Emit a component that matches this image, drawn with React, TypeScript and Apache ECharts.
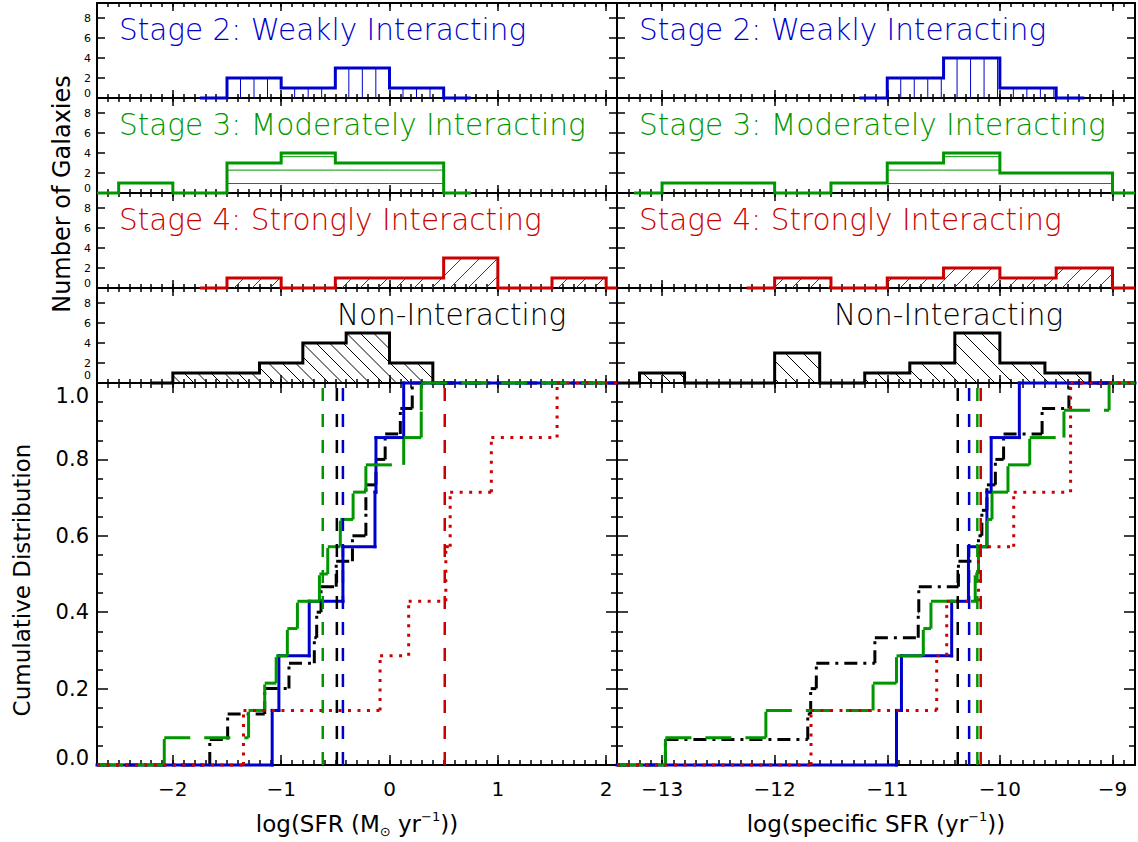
import React, { useEffect, useRef } from 'react';
import * as echarts from 'echarts';

// ---------------- colours / fonts ----------------
const BLUE = '#0000cc';
const GREEN = '#009600';
const RED = '#cc0000';
const BLACK = '#000000';
const FONT = '"DejaVu Sans", "Noto Sans", sans-serif';

// ---------------- axis ranges ----------------
const SFR_RANGE = [-2.7, 2.1];
const SSFR_RANGE = [-13.4, -8.8];
const HIST_Y_MAX = 9.5;
const HIST_Y_STEP = 2;
const CDF_Y_STEP = 0.2;

// ---------------- histogram data (bin centres + counts, IDL psym=10 style) ----------------
// log SFR
const stage2SfrCentres = [-1.75, -1.25, -0.75, -0.25, 0.25, 0.75];
const stage2SfrCounts = [0, 2, 1, 3, 1, 0];
const stage3SfrCentres = [-2.75, -2.25, -1.75, -1.25, -0.75, -0.25, 0.25, 0.75];
const stage3SfrCounts = [0, 1, 0, 3, 4, 3, 3, 0];
const stage4SfrCentres = [-1.75, -1.25, -0.75, -0.25, 0.25, 0.75, 1.25, 1.75, 2.25];
const stage4SfrCounts = [0, 1, 0, 1, 1, 3, 0, 1, 0];
const nonSfrCentres = [-2.2, -1.8, -1.4, -1.0, -0.6, -0.2, 0.2, 0.6];
const nonSfrCounts = [0, 1, 1, 2, 4, 5, 2, 0];
// log sSFR
const stage2SsfrCentres = [-11.25, -10.75, -10.25, -9.75, -9.25];
const stage2SsfrCounts = [0, 2, 4, 1, 0];
const stage3SsfrCentres = [-13.25, -12.75, -12.25, -11.75, -11.25, -10.75, -10.25, -9.75, -9.25, -8.75];
const stage3SsfrCounts = [0, 1, 1, 0, 1, 3, 4, 2, 2, 0];
const stage4SsfrCentres = [-12.25, -11.75, -11.25, -10.75, -10.25, -9.75, -9.25, -8.75];
const stage4SsfrCounts = [0, 1, 0, 1, 2, 1, 2, 0];
const nonSsfrCentres = [-13.4, -13.0, -12.6, -12.2, -11.8, -11.4, -11.0, -10.6, -10.2, -9.8, -9.4, -9.0];
const nonSsfrCounts = [0, 1, 0, 0, 3, 0, 1, 2, 5, 2, 1, 0];

// ---------------- individual galaxy values (cumulative distributions) ----------------
const stage2Sfr = [-1.083, -1.021, -0.741, -0.43, -0.134, -0.125, 0.131];
const stage3Sfr = [-2.079, -1.301, -1.152, -1.046, -0.943, -0.85, -0.647, -0.57, -0.454, -0.336, -0.218, 0.131, 0.293, 0.293];
const stage4Sfr = [-1.348, -0.087, 0.177, 0.52, 0.56, 0.94, 1.547];
const nonSfr = [-1.659, -1.494, -1.152, -0.928, -0.694, -0.672, -0.632, -0.492, -0.342, -0.218, -0.218, -0.125, -0.04, 0.1, 0.21];

const stage2Ssfr = [-10.918, -10.874, -10.428, -10.279, -10.115, -10.077, -9.827];
const stage3Ssfr = [-12.97, -12.078, -11.126, -10.918, -10.68, -10.612, -10.219, -10.19, -10.115, -10.07, -9.928, -9.735, -9.431, -9.03];
const stage4Ssfr = [-11.677, -10.561, -10.472, -10.19, -9.877, -9.372, -9.372];
const nonSsfr = [-12.97, -11.706, -11.68, -11.63, -11.11, -10.725, -10.72, -10.368, -10.19, -10.16, -10.115, -10.04, -9.967, -9.625, -9.387];

// medians (dashed vertical lines)
const sfrMedians = { non: -0.486, stage2: -0.43, stage3: -0.616, stage4: 0.51 };
const ssfrMedians = { non: -10.374, stage2: -10.273, stage3: -10.2, stage4: -10.17 };

// ---------------- texts ----------------
const panelTitles = ['Stage 2: Weakly Interacting', 'Stage 3: Moderately Interacting', 'Stage 4: Strongly Interacting', 'Non-Interacting'];
const panelTitleColors = [BLUE, GREEN, RED, BLACK];

// ---------------- layout ----------------
const COLS = [
  { left: 97, width: 520, range: SFR_RANGE },
  { left: 617, width: 518, range: SSFR_RANGE },
];
const ROWS = [
  { top: 3, h: 95 },
  { top: 98, h: 95 },
  { top: 193, h: 95 },
  { top: 288, h: 95 },
  { top: 383, h: 382 },
];

type Hatch = { kind: 'v' | 'h' | 'fwd' | 'back'; spacing: number; offset?: number };

function fmtMinus(v: number): string {
  const r = Math.round(v * 1000) / 1000;
  return r < 0 ? '\u2212' + String(Math.abs(r)) : String(r);
}

function psym10(centres: number[], counts: number[], lo: number, hi: number) {
  const clamp = (v: number) => Math.max(lo, Math.min(hi, v));
  const pts: number[][] = [];
  pts.push([clamp(centres[0]), counts[0]]);
  for (let i = 0; i < centres.length - 1; i++) {
    const m = clamp((centres[i] + centres[i + 1]) / 2);
    pts.push([m, counts[i]]);
    pts.push([m, counts[i + 1]]);
  }
  pts.push([clamp(centres[centres.length - 1]), counts[counts.length - 1]]);
  return pts;
}

function hatchLines(L: number, R: number, T: number, B: number, h: Hatch) {
  const segs: number[][] = [];
  const s = h.spacing;
  if (h.kind === 'v') {
    for (let x = L + s; x < R - 1.5; x += s) segs.push([x, T + 1, x, B]);
  } else if (h.kind === 'h') {
    for (let y = B - (h.offset || 0); y > T + 2; y -= s) segs.push([L, y, R, y]);
  } else if (h.kind === 'fwd') {
    const k0 = Math.ceil((L + T) / s) * s;
    for (let k = k0; k <= R + B; k += s) {
      const xa = Math.max(L, k - B), xb = Math.min(R, k - T);
      if (xb - xa > 0.5) segs.push([xa, k - xa, xb, k - xb]);
    }
  } else {
    const k0 = Math.ceil((L - B) / s) * s;
    for (let k = k0; k <= R - T; k += s) {
      const xa = Math.max(L, k + T), xb = Math.min(R, k + B);
      if (xb - xa > 0.5) segs.push([xa, xa - k, xb, xb - k]);
    }
  }
  return segs;
}

function cdfSegments(values: number[], lo: number, hi: number) {
  const n = values.length;
  const segs: number[][] = [];
  let prev = lo;
  values.forEach((v, i) => {
    segs.push([prev, v, i / n, (i + 1) / n]);
    prev = v;
  });
  segs.push([prev, hi, 1, 1]);
  return segs;
}

const AX_STYLE = { color: '#000', width: 2 };
const TICK_STYLE = { color: '#000', width: 1.5 };

function xMajor(g: number, pos: string, range: number[], len: number, labels: boolean) {
  return {
    type: 'value', gridIndex: g, position: pos, min: range[0], max: range[1],
    axisLine: { show: true, onZero: false, lineStyle: AX_STYLE },
    axisTick: { show: true, inside: true, length: len, lineStyle: TICK_STYLE },
    splitLine: { show: false },
    axisLabel: labels
      ? { show: true, fontSize: 20, color: '#000', fontFamily: FONT, margin: 14, showMinLabel: false, showMaxLabel: false, formatter: (v: number) => fmtMinus(v) }
      : { show: false },
  };
}

function xMinor(g: number, pos: string, range: number[], len: number) {
  return {
    type: 'value', gridIndex: g, position: pos, min: range[0], max: range[1], interval: 0.1,
    axisLine: { show: false, onZero: false },
    axisTick: { show: true, inside: true, length: len, lineStyle: TICK_STYLE },
    splitLine: { show: false },
    axisLabel: { show: false },
  };
}

function yAx(g: number, pos: string, isCdf: boolean, labels: boolean, zeroLift: number) {
  let axisLabel: any = { show: false };
  if (labels && isCdf) {
    axisLabel = {
      show: true, fontSize: 21, color: '#000', fontFamily: FONT, margin: 8,
      formatter: (v: number) => (Math.abs(v) < 1e-6 ? '{lo|0.0}' : Math.abs(v - 1) < 1e-6 ? '{hi|1.0}' : v.toFixed(1)),
      rich: {
        lo: { fontSize: 21, color: '#000', fontFamily: FONT, padding: [0, 0, 14, 0] },
        hi: { fontSize: 21, color: '#000', fontFamily: FONT, padding: [25, 0, 0, 0] },
      },
    };
  } else if (labels) {
    axisLabel = {
      show: true, fontSize: 11, color: '#000', fontFamily: FONT, margin: 6, showMaxLabel: false,
      formatter: (v: number) => (Math.abs(v) < 1e-6 ? '{z|0}' : String(Math.round(v))),
      rich: { z: { fontSize: 11, color: '#000', fontFamily: FONT, padding: [0, 0, zeroLift, 0] } },
    };
  }
  return {
    type: 'value', gridIndex: g, position: pos, min: 0, max: isCdf ? 1 : HIST_Y_MAX,
    interval: isCdf ? CDF_Y_STEP : HIST_Y_STEP,
    axisLine: { show: true, onZero: false, lineStyle: AX_STYLE },
    axisTick: { show: true, inside: true, length: isCdf ? 11 : 8, lineStyle: TICK_STYLE },
    minorTick: isCdf ? { show: true, splitNumber: 4, length: 6, lineStyle: TICK_STYLE } : { show: false },
    splitLine: { show: false },
    axisLabel,
  };
}

function buildOption() {
  const grids: any[] = [];
  const xAxes: any[] = [];
  const yAxes: any[] = [];
  const series: any[] = [];
  const graphics: any[] = [];

  const histSets = [
    [
      { c: stage2SfrCentres, n: stage2SfrCounts, color: BLUE, hatch: { kind: 'v', spacing: 13.5 } as Hatch },
      { c: stage3SfrCentres, n: stage3SfrCounts, color: GREEN, hatch: { kind: 'h', spacing: 13.4, offset: 9.5 } as Hatch },
      { c: stage4SfrCentres, n: stage4SfrCounts, color: RED, hatch: { kind: 'fwd', spacing: 18 } as Hatch },
      { c: nonSfrCentres, n: nonSfrCounts, color: BLACK, hatch: { kind: 'back', spacing: 13.5 } as Hatch },
    ],
    [
      { c: stage2SsfrCentres, n: stage2SsfrCounts, color: BLUE, hatch: { kind: 'v', spacing: 13.5 } as Hatch },
      { c: stage3SsfrCentres, n: stage3SsfrCounts, color: GREEN, hatch: { kind: 'h', spacing: 13.4, offset: 9.5 } as Hatch },
      { c: stage4SsfrCentres, n: stage4SsfrCounts, color: RED, hatch: { kind: 'fwd', spacing: 18 } as Hatch },
      { c: nonSsfrCentres, n: nonSsfrCounts, color: BLACK, hatch: { kind: 'back', spacing: 18 } as Hatch },
    ],
  ];
  const cdfSets = [
    [
      { v: nonSfr, m: sfrMedians.non, color: BLACK, dash: [13, 6, 3, 6], z: 3 },
      { v: stage2Sfr, m: sfrMedians.stage2, color: BLUE, dash: null, z: 4 },
      { v: stage3Sfr, m: sfrMedians.stage3, color: GREEN, dash: [26, 14], z: 5 },
      { v: stage4Sfr, m: sfrMedians.stage4, color: RED, dash: [3, 6.5], z: 6 },
    ],
    [
      { v: nonSsfr, m: ssfrMedians.non, color: BLACK, dash: [13, 6, 3, 6], z: 3 },
      { v: stage2Ssfr, m: ssfrMedians.stage2, color: BLUE, dash: null, z: 4 },
      { v: stage3Ssfr, m: ssfrMedians.stage3, color: GREEN, dash: [26, 14], z: 5 },
      { v: stage4Ssfr, m: ssfrMedians.stage4, color: RED, dash: [3, 6.5], z: 6 },
    ],
  ];

  COLS.forEach((col, ci) => {
    ROWS.forEach((row, ri) => {
      const g = grids.length;
      const isCdf = ri === 4;
      grids.push({ left: col.left, top: row.top, width: col.width, height: row.h, containLabel: false, outerBoundsMode: 'none' });
      const majLen = isCdf ? 10 : 8;
      const minLen = isCdf ? 5 : 4;
      xAxes.push(xMajor(g, 'bottom', col.range, majLen, isCdf));
      xAxes.push(xMinor(g, 'bottom', col.range, minLen));
      xAxes.push(xMajor(g, 'top', col.range, majLen, false));
      xAxes.push(xMinor(g, 'top', col.range, minLen));
      yAxes.push(yAx(g, 'left', isCdf, ci === 0, ri === 3 ? 15 : 9));
      yAxes.push(yAx(g, 'right', isCdf, false, 0));
      const xi = 4 * g;
      const yi = 2 * g;
      const lo = col.range[0];
      const hi = col.range[1];

      if (!isCdf) {
        const h = histSets[ci][ri];
        const w = h.c[1] - h.c[0];
        const bins = h.c
          .map((c, i) => [Math.max(lo, c - w / 2), Math.min(hi, c + w / 2), h.n[i]])
          .filter((b) => b[2] > 0);
        const hatch = h.hatch;
        const color = h.color;
        series.push({
          type: 'custom', xAxisIndex: xi, yAxisIndex: yi, data: bins, silent: true, clip: false, z: 2,
          renderItem: (_p: any, api: any) => {
            const a = api.coord([api.value(0), 0]);
            const b = api.coord([api.value(1), api.value(2)]);
            const L = Math.min(a[0], b[0]), R = Math.max(a[0], b[0]);
            const T = Math.min(a[1], b[1]), B = Math.max(a[1], b[1]);
            const segs = hatchLines(L, R, T, B, hatch);
            return {
              type: 'group',
              children: segs.map((s) => ({ type: 'line', shape: { x1: s[0], y1: s[1], x2: s[2], y2: s[3] }, style: { stroke: color, lineWidth: 1 } })),
            };
          },
        });
        series.push({
          type: 'line', xAxisIndex: xi, yAxisIndex: yi, data: psym10(h.c, h.n, lo, hi),
          showSymbol: false, symbol: 'none', silent: true, clip: false, z: 3,
          lineStyle: { color, width: 3, join: 'miter' },
        });
        graphics.push({
          type: 'text', x: ri === 3 ? (ci === 0 ? 337 : 834) : col.left + 22, y: row.top + 27,
          style: { text: panelTitles[ri], fill: panelTitleColors[ri], fontSize: 29.5, fontFamily: FONT, fontWeight: 200, align: 'left', verticalAlign: 'middle' },
        });
      } else {
        cdfSets[ci].forEach((cs) => {
          const color = cs.color;
          const dash = cs.dash;
          series.push({
            type: 'custom', xAxisIndex: xi, yAxisIndex: yi, data: cdfSegments(cs.v, lo, hi), silent: true, clip: false, z: cs.z,
            renderItem: (_p: any, api: any) => {
              const a = api.coord([api.value(0), api.value(2)]);
              const b = api.coord([api.value(1), api.value(2)]);
              const c = api.coord([api.value(1), api.value(3)]);
              const style: any = { stroke: color, lineWidth: 3, fill: null, lineCap: dash ? 'butt' : 'square' };
              if (dash) style.lineDash = dash;
              const children: any[] = [];
              if (b[0] - a[0] > 0.01) children.push({ type: 'line', shape: { x1: a[0], y1: a[1], x2: b[0], y2: b[1] }, style });
              if (b[1] - c[1] > 0.01) children.push({ type: 'line', shape: { x1: b[0], y1: b[1], x2: c[0], y2: c[1] }, style });
              return { type: 'group', children };
            },
          });
          series.push({
            type: 'custom', xAxisIndex: xi, yAxisIndex: yi, data: [[cs.m]], silent: true, clip: false, z: 7,
            renderItem: (_p: any, api: any) => {
              const a = api.coord([api.value(0), 0]);
              const b = api.coord([api.value(0), 1]);
              return { type: 'line', shape: { x1: a[0], y1: a[1], x2: b[0], y2: b[1] }, style: { stroke: color, lineWidth: 2.5, lineDash: [13, 13] } };
            },
          });
        });
      }
    });
  });

  // axis titles
  graphics.push({
    type: 'text', x: 62, y: 194, rotation: Math.PI / 2,
    style: { text: 'Number of Galaxies', fill: '#000', fontSize: 24, fontFamily: FONT, align: 'center', verticalAlign: 'middle' },
  });
  graphics.push({
    type: 'text', x: 22, y: 580, rotation: Math.PI / 2,
    style: { text: 'Cumulative Distribution', fill: '#000', fontSize: 23, fontFamily: FONT, align: 'center', verticalAlign: 'middle' },
  });
  const rich = {
    a: { fontSize: 23, fontFamily: FONT, fill: '#000', color: '#000', lineHeight: 28 },
    s: { fontSize: 13, fontFamily: FONT, fill: '#000', color: '#000', lineHeight: 13, verticalAlign: 'bottom' },
    p: { fontSize: 13, fontFamily: FONT, fill: '#000', color: '#000', lineHeight: 13, verticalAlign: 'top' },
  };
  graphics.push({
    type: 'text', x: 357, y: 824,
    style: { text: '{a|log(SFR (M}{s|\u2299}{a| yr}{p|\u22121}{a|))}', rich, align: 'center', verticalAlign: 'middle' },
  });
  graphics.push({
    type: 'text', x: 876, y: 824,
    style: { text: '{a|log(specific SFR (yr}{p|\u22121}{a|))}', rich, align: 'center', verticalAlign: 'middle' },
  });

  return {
    animation: false,
    backgroundColor: '#ffffff',
    grid: grids,
    xAxis: xAxes,
    yAxis: yAxes,
    series,
    graphic: { elements: graphics },
  };
}

export default function App() {
  const ref = useRef<HTMLDivElement>(null);
  useEffect(() => {
    const chart = echarts.init(ref.current as HTMLDivElement, null, { renderer: 'svg' });
    chart.setOption(buildOption() as any);
    return () => chart.dispose();
  }, []);
  return <div ref={ref} style={{ position: 'absolute', left: 0, top: 0, width: 1138, height: 842, background: '#fff' }} />;
}
